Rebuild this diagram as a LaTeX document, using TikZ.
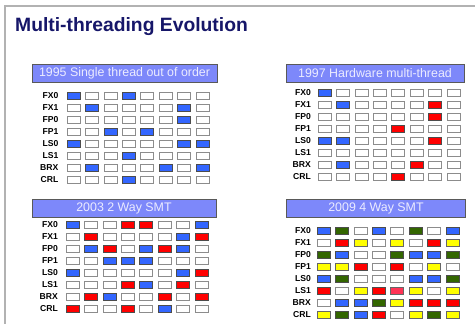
\documentclass[tikz,border=0pt]{standalone}
\usepackage{fontspec}
\setmainfont{Liberation Sans}
\usetikzlibrary{positioning}

\begin{document}
\begin{tikzpicture}[x=1pt,y=-1pt,
    cell/.style={minimum width=13pt,minimum height=7pt,inner sep=0pt,anchor=west,line width=1pt},
    cello/.style={cell,draw=black!45,fill=white},
    cellB/.style={cell,draw=black!70,fill=thrblue},
    cellR/.style={cell,draw=black!70,fill=thrred},
    cellG/.style={cell,draw=black!70,fill=thrgreen},
    cellY/.style={cell,draw=black!60,fill=thryellow},
    cellP/.style={cell,draw=black!60,fill=thrpink},
    unit/.style={font=\bfseries\fontsize{8.6}{9}\selectfont,anchor=east,inner sep=0pt},
    bar/.style={draw=black!65,line width=0.8pt,fill=barblue,text=bartext,minimum height=18pt,inner sep=0pt,font=\fontsize{12.4}{13}\selectfont}]
    \useasboundingbox (0,0) rectangle (475,324);

    \xdefinecolor{thrblue}{RGB}{51, 102, 255}
    \xdefinecolor{thrred}{RGB}{255, 0, 0}
    \xdefinecolor{thrgreen}{RGB}{51, 102, 0}
    \xdefinecolor{thryellow}{RGB}{255, 255, 0}
    \xdefinecolor{thrpink}{RGB}{255, 51, 85}
    \xdefinecolor{barblue}{RGB}{125, 136, 250}
    \xdefinecolor{bartext}{RGB}{236, 236, 255}
    \xdefinecolor{titleblue}{RGB}{22, 22, 105}

    % Frame and title
    \draw[black!30, line width=1.5pt] (5,324) -- (5,6) -- (475,6);
    \node[anchor=base west, inner sep=0pt, text=titleblue, font=\bfseries\fontsize{19.3}{20}\selectfont] (title) at (15,31) {Multi-threading Evolution};

    % 1995 single thread
    \node[bar, minimum width=185pt] (bar95) at (124.5,73) {1995 Single thread out of order};
    \foreach \u [count=\r] in {FX0,FX1,FP0,FP1,LS0,LS1,BRX,CRL}
        \node[unit] (u95-\r) at (58.5,{84+12*\r}) {\u};
    \foreach \row [count=\r] in {{B,o,o,B,o,o,o,o},{o,B,o,o,o,o,B,o},{o,o,o,o,o,o,B,o},{o,o,B,o,B,o,o,o},
                                 {B,o,o,o,o,o,B,B},{o,o,o,B,o,o,o,o},{o,B,o,o,o,B,o,B},{o,o,o,B,o,o,o,o}}
        \foreach \c [count=\k] in \row
            \node[cell\c] (c95-\r-\k) at ({48.3+18.4*\k},{84+12*\r}) {};

    % 1997 hardware multi-thread
    \node[bar, minimum width=178pt] (bar97) at (375,73.5) {1997 Hardware multi-thread};
    \foreach \u [count=\r] in {FX0,FX1,FP0,FP1,LS0,LS1,BRX,CRL}
        \node[unit] (u97-\r) at (311,{81+12*\r}) {\u};
    \foreach \row [count=\r] in {{B,o,o,o,o,o,o,o},{o,B,o,o,o,o,R,o},{o,o,o,o,o,o,R,o},{o,o,o,o,R,o,o,o},
                                 {B,B,o,o,o,o,R,o},{o,o,o,o,o,o,o,o},{o,B,o,o,o,R,o,o},{o,o,o,o,R,o,o,o}}
        \foreach \c [count=\k] in \row
            \node[cell\c] (c97-\r-\k) at ({299.3+18.4*\k},{81+12*\r}) {};

    % 2003 2 way SMT
    \node[bar, minimum width=184pt] (bar03) at (124,208) {2003 2 Way SMT};
    \foreach \u [count=\r] in {FX0,FX1,FP0,FP1,LS0,LS1,BRX,CRL}
        \node[unit] (u03-\r) at (58,{213+12*\r}) {\u};
    \foreach \row [count=\r] in {{B,o,o,R,R,o,o,B},{o,R,o,o,o,o,B,R},{o,B,R,o,B,R,B,o},{o,o,B,B,B,o,o,o},
                                 {B,o,o,o,o,o,B,R},{o,o,o,R,B,o,R,o},{o,R,B,o,o,R,o,R},{R,o,o,R,o,B,o,o}}
        \foreach \c [count=\k] in \row
            \node[cell\c] (c03-\r-\k) at ({47.3+18.4*\k},{213+12*\r}) {};

    % 2009 4 way SMT
    \node[bar, minimum width=179pt] (bar09) at (376,208) {2009 4 Way SMT};
    \foreach \u [count=\r] in {FX0,FX1,FP0,FP1,LS0,LS1,BRX,CRL}
        \node[unit] (u09-\r) at (311,{219+12*\r}) {\u};
    \foreach \row [count=\r] in {{B,G,o,B,o,G,o,B},{o,R,Y,o,Y,o,R,Y},{G,B,o,o,G,B,B,G},{Y,Y,R,o,R,o,Y,o},
                                 {B,G,o,o,o,B,B,G},{R,o,Y,R,P,Y,o,Y},{o,B,B,G,Y,R,R,R},{Y,G,B,R,o,Y,G,Y}}
        \foreach \c [count=\k] in \row
            \node[cell\c] (c09-\r-\k) at ({298.3+18.4*\k},{219+12*\r}) {};

\end{tikzpicture}
\end{document}
